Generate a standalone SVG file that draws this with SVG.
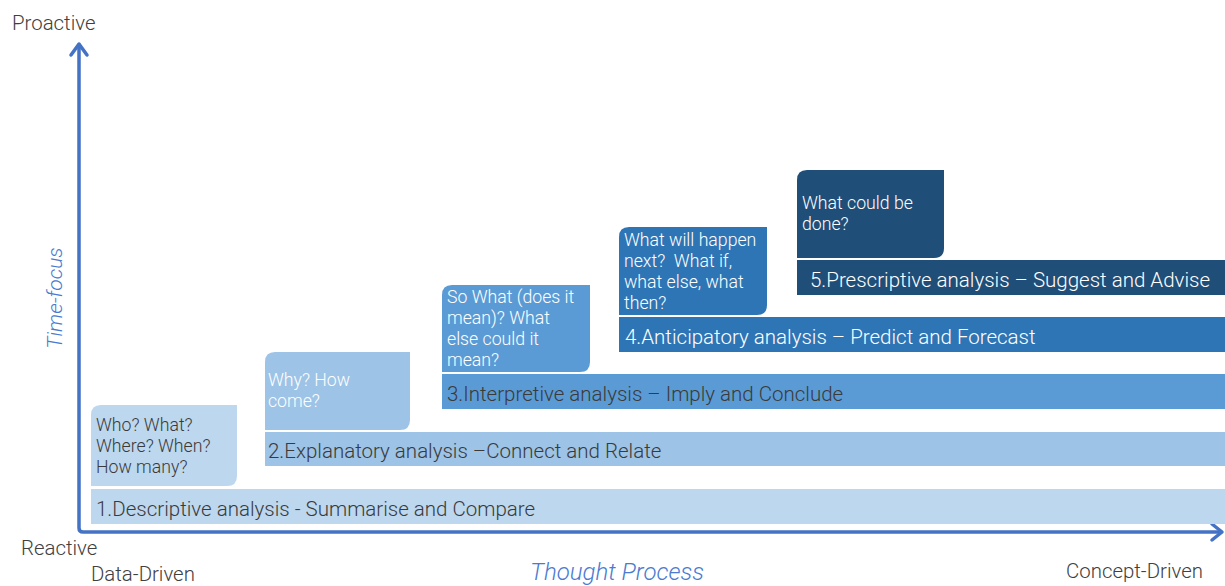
<svg xmlns="http://www.w3.org/2000/svg" width="1225" height="586" viewBox="0 0 1225 586">
<style>
text{font-family:Roboto,"Liberation Sans",sans-serif;font-weight:300}
.lab{font-size:20.4px;fill:#404040}
.ax{font-size:24px;fill:#4A7BD0;font-style:italic}
.axv{font-size:21px;fill:#4A7BD0;font-style:italic}
.bt{font-size:20.5px}
.tt{font-size:17.7px}
.dk{fill:#3A3A3A}
.wh{fill:#FFFFFF}
.axis{fill:none;stroke:#4472C4;stroke-width:3.5;stroke-linecap:round;stroke-linejoin:round}
</style>
<rect width="1225" height="586" fill="#FFFFFF"/>
<g id="axes">
<path class="axis" d="M79,45 L79,528 Q79,532 83,532 L1221,532"/>
<path class="axis" d="M71,55 L79,44 L87,55"/>
<path class="axis" d="M1212,524 L1222,532 L1212,540"/>
</g>
<g id="labels">
<text class="lab" x="12" y="30">Proactive</text>
<text class="lab" x="21" y="555">Reactive</text>
<text class="lab" x="91" y="581">Data-Driven</text>
<text class="lab" x="1066" y="578">Concept-Driven</text>
<text class="ax" x="530" y="580">Thought Process</text>
<text class="axv" transform="translate(62,298) rotate(-90)" text-anchor="middle">Time-focus</text>
</g>
<g id="descriptive">
<path fill="#BDD7EE" d="M91,415 Q91,405 101,405 L237,405 L237,476 Q237,486 227,486 L91,486 Z"/>
<rect x="91" y="489" width="1134" height="35" fill="#BDD7EE"/>
<text class="tt dk"><tspan x="96" y="431">Who? What?</tspan><tspan x="96" y="452">Where? When?</tspan><tspan x="96" y="473">How many?</tspan></text>
<text class="bt dk" x="96" y="516">1.Descriptive analysis - Summarise and Compare</text>
</g>
<g id="explanatory">
<path fill="#9DC3E6" d="M265,362 Q265,352 275,352 L410,352 L410,420 Q410,430 400,430 L265,430 Z"/>
<rect x="265" y="432" width="960" height="34" fill="#9DC3E6"/>
<text class="tt wh"><tspan x="268" y="386">Why? How</tspan><tspan x="268" y="407">come?</tspan></text>
<text class="bt dk" x="268" y="458">2.Explanatory analysis –Connect and Relate</text>
</g>
<g id="interpretive">
<path fill="#5B9BD5" d="M442,295 Q442,285 452,285 L590,285 L590,362 Q590,372 580,372 L442,372 Z"/>
<rect x="442" y="374" width="783" height="35" fill="#5B9BD5"/>
<text class="tt wh"><tspan x="447" y="303">So What (does it</tspan><tspan x="447" y="324">mean)? What</tspan><tspan x="447" y="345">else could it</tspan><tspan x="447" y="366">mean?</tspan></text>
<text class="bt dk" x="447" y="401">3.Interpretive analysis – Imply and Conclude</text>
</g>
<g id="anticipatory">
<path fill="#2E75B6" d="M619,237 Q619,227 629,227 L767,227 L767,305 Q767,315 757,315 L619,315 Z"/>
<rect x="619" y="317" width="606" height="35" fill="#2E75B6"/>
<text class="tt wh"><tspan x="624" y="246">What will happen</tspan><tspan x="624" y="267">next?&#160; What if,</tspan><tspan x="624" y="288">what else, what</tspan><tspan x="624" y="309">then?</tspan></text>
<text class="bt wh" x="625" y="344">4.Anticipatory analysis – Predict and Forecast</text>
</g>
<g id="prescriptive">
<path fill="#1F4E79" d="M797,180 Q797,170 807,170 L944,170 L944,248 Q944,258 934,258 L797,258 Z"/>
<rect x="797" y="260" width="428" height="35" fill="#1F4E79"/>
<text class="tt wh"><tspan x="802" y="209">What could be</tspan><tspan x="802" y="230">done?</tspan></text>
<text class="bt wh" x="810" y="287">5.Prescriptive analysis – Suggest and Advise</text>
</g>
</svg>
